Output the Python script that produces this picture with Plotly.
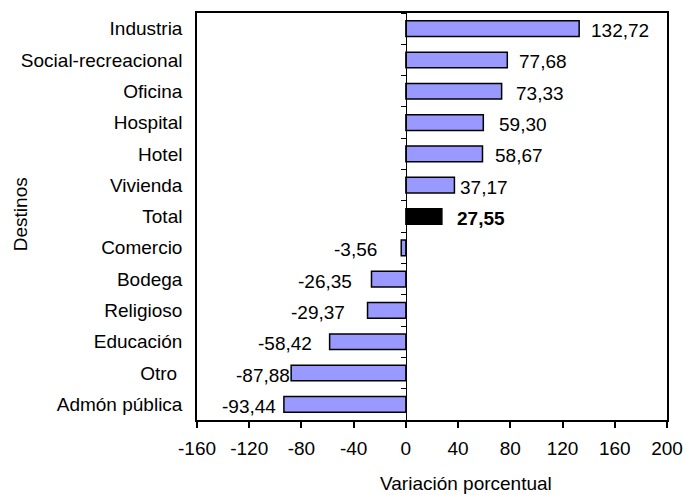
import plotly.graph_objects as go

categories = ["Industria", "Social-recreacional", "Oficina", "Hospital", "Hotel",
              "Vivienda", "Total", "Comercio", "Bodega", "Religioso", "Educación",
              "Otro\u00a0", "Admón pública"]
values = [132.72, 77.68, 73.33, 59.30, 58.67, 37.17, 27.55, -3.56, -26.35,
          -29.37, -58.42, -87.88, -93.44]
x_ticks = [-160, -120, -80, -40, 0, 40, 80, 120, 160, 200]

# styling
bar_colors = ["#000000" if c == "Total" else "#9999FF" for c in categories]
label_shift = [41, 36, 38, 40, 37, 30, 39, -46, -46, -50, -45, -28, -35]
FONT = "Liberation Sans, Arial, sans-serif"
FS = 19
n = len(categories)

fig = go.Figure()
fig.add_trace(go.Bar(
    y=categories, x=values, orientation="h",
    marker=dict(color=bar_colors, line=dict(color="black", width=1.5)),
    width=0.5, hoverinfo="x+y", showlegend=False,
))
# invisible trace to carry the category axis drawn at x = 0
fig.add_trace(go.Scatter(
    y=categories, x=[0] * n, yaxis="y2", mode="markers",
    marker=dict(opacity=0), hoverinfo="skip", showlegend=False,
))

for c, v, s in zip(categories, values, label_shift):
    txt = f"{v:.2f}".replace(".", ",")
    fig.add_annotation(
        x=v, y=c, text=f"<b>{txt}</b>" if c == "Total" else txt,
        showarrow=False, xanchor="center", yanchor="middle",
        xshift=s, yshift=-2, font=dict(family=FONT, size=FS, color="black"),
    )

fig.add_annotation(text="Variación porcentual", xref="paper", yref="paper",
                   x=0.572, y=-0.157, showarrow=False, xanchor="center",
                   yanchor="middle", font=dict(family=FONT, size=FS, color="black"))
fig.add_annotation(text="Destinos", xref="paper", yref="paper",
                   x=-0.375, y=0.505, showarrow=False, textangle=-90,
                   xanchor="center", yanchor="middle",
                   font=dict(family=FONT, size=FS, color="black"))

xmin, xmax = x_ticks[0], x_ticks[-1]
fig.update_layout(
    width=683, height=495,
    margin=dict(l=197, r=16, t=13, b=75, autoexpand=False),
    paper_bgcolor="white", plot_bgcolor="white",
    font=dict(family=FONT, size=FS, color="black"),
    bargap=0.5,
    xaxis=dict(
        range=[xmin, xmax], tickvals=x_ticks, ticktext=[str(t) for t in x_ticks],
        ticks="outside", ticklen=6, tickwidth=1.5, tickcolor="black",
        showline=True, linecolor="black", linewidth=1.5, mirror=True,
        showgrid=False, zeroline=False, tickfont=dict(size=FS), automargin=False,
        ticklabelstandoff=4,
    ),
    yaxis=dict(
        type="category", categoryorder="array", categoryarray=categories,
        range=[n - 0.5, -0.5], showline=True, linecolor="black", linewidth=1.5,
        mirror=True, ticks="", showgrid=False, zeroline=False,
        ticklabelstandoff=9, tickfont=dict(size=FS), automargin=False,
    ),
    yaxis2=dict(
        type="category", categoryorder="array", categoryarray=categories,
        range=[n - 0.5, -0.5], overlaying="y", anchor="free",
        position=(0 - xmin) / (xmax - xmin), side="left",
        showline=True, linecolor="black", linewidth=1,
        ticks="outside", tickson="boundaries", ticklen=5, tickwidth=1,
        tickcolor="black", showticklabels=False, showgrid=False, zeroline=False,
        automargin=False,
    ),
)

fig.write_html("out.html", config={"displayModeBar": False},
               post_script="document.body.style.margin='0';")
